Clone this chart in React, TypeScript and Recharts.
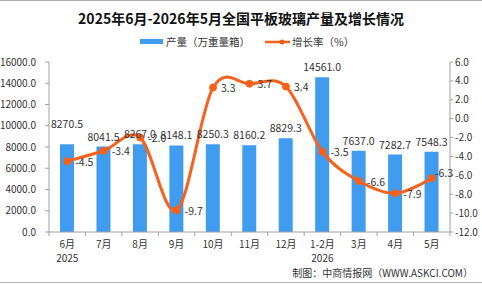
import React from 'react';
import { ComposedChart, Bar, Line, XAxis, YAxis, LabelList } from 'recharts';

const months = ['6月', '7月', '8月', '9月', '10月', '11月', '12月', '1-2月', '3月', '4月', '5月'];
const years = ['2025', '', '', '', '', '', '', '2026', '', '', ''];
const output = [8270.5, 8041.5, 8267.0, 8148.1, 8250.3, 8160.2, 8829.3, 14561.0, 7637.0, 7282.7, 7548.3];
const growth = [-4.5, -3.4, -2.0, -9.7, 3.3, 3.7, 3.4, -3.5, -6.6, -7.9, -6.3];
const leftTicks = [0, 2000, 4000, 6000, 8000, 10000, 12000, 14000, 16000];
const rightTicks = [-12, -10, -8, -6, -4, -2, 0, 2, 4, 6];

const W = 482;
const H = 284;
const PLOT_LEFT = 49;
const PLOT_RIGHT = 450;
const PLOT_TOP = 62;
const PLOT_BOTTOM = 232;
const FONT = '"Noto Sans CJK SC", "Noto Sans", sans-serif';
const BAR_COLOR = '#3f9cee';
const LINE_COLOR = '#f8611b';
const AXIS_COLOR = '#a0a0a0';
const TEXT_COLOR = '#333';

const data = months.map((m, i) => ({ month: m, year: years[i], output: output[i], growth: growth[i] }));

// Catmull-Rom style cardinal curve (Excel-like smoothing)
function makeCardinal(tension: number) {
  const k = (1 - tension) / 6;
  return function (context: any) {
    const s: any = {
      _context: context,
      _line: NaN,
      _point: 0,
      _x0: NaN, _x1: NaN, _x2: NaN, _y0: NaN, _y1: NaN, _y2: NaN,
    };
    const pt = (x: number, y: number) => {
      s._context.bezierCurveTo(
        s._x1 + k * (s._x2 - s._x0),
        s._y1 + k * (s._y2 - s._y0),
        s._x2 + k * (s._x1 - x),
        s._y2 + k * (s._y1 - y),
        s._x2,
        s._y2
      );
    };
    s.areaStart = () => { s._line = 0; };
    s.areaEnd = () => { s._line = NaN; };
    s.lineStart = () => {
      s._x0 = s._x1 = s._x2 = s._y0 = s._y1 = s._y2 = NaN;
      s._point = 0;
    };
    s.lineEnd = () => {
      switch (s._point) {
        case 2: s._context.lineTo(s._x2, s._y2); break;
        case 3: pt(s._x1, s._y1); break;
      }
      if (s._line || (s._line !== 0 && s._point === 1)) s._context.closePath();
      s._line = 1 - s._line;
    };
    s.point = (x: number, y: number) => {
      x = +x; y = +y;
      switch (s._point) {
        case 0:
          s._point = 1;
          s._line ? s._context.lineTo(x, y) : s._context.moveTo(x, y);
          break;
        case 1:
          s._point = 2;
          s._x1 = x; s._y1 = y;
          break;
        case 2:
          s._point = 3;
          pt(x, y);
          break;
        default:
          pt(x, y);
          break;
      }
      s._x0 = s._x1; s._x1 = s._x2; s._x2 = x;
      s._y0 = s._y1; s._y1 = s._y2; s._y2 = y;
    };
    return s;
  };
}
const smoothCurve = makeCardinal(0);

const HALF_BAND = (PLOT_RIGHT - PLOT_LEFT) / months.length / 2;

const XTick = (props: any) => {
  const { x, y, payload, index } = props;
  const yr = years[index];
  return (
    <g>
      <line x1={x - HALF_BAND} x2={x - HALF_BAND} y1={y} y2={y + 4} stroke={AXIS_COLOR} />
      {index === months.length - 1 && (
        <line x1={x + HALF_BAND} x2={x + HALF_BAND} y1={y} y2={y + 4} stroke={AXIS_COLOR} />
      )}
      <text x={x} y={y + 16} textAnchor="middle" fontSize={10} fill={TEXT_COLOR} fontFamily={FONT}>
        {payload.value}
      </text>
      {yr && (
        <text x={x} y={y + 30} textAnchor="middle" fontSize={10} fill={TEXT_COLOR} fontFamily={FONT}>
          {yr}
        </text>
      )}
    </g>
  );
};

const BarLabel = (props: any) => {
  const { x, y, width, value, index } = props;
  const extra = index === 0 ? 10 : 0;
  return (
    <text x={x + width / 2} y={y - 6 - extra} textAnchor="middle" fontSize={10.5} fill={TEXT_COLOR} fontFamily={FONT}>
      {Number(value).toFixed(1)}
    </text>
  );
};

const LineLabel = (props: any) => {
  const { x, y, value, index } = props;
  const last = index === months.length - 1;
  return (
    <text
      x={x + (last ? 3 : 8)}
      y={y + (last ? -6 : 0)}
      dominantBaseline="central"
      textAnchor="start"
      fontSize={10.5}
      fill={TEXT_COLOR}
      fontFamily={FONT}
    >
      {Number(value).toFixed(1)}
    </text>
  );
};

export default function App() {
  return (
    <div style={{ position: 'absolute', left: 0, top: 0, width: W, height: H, background: '#fff', fontFamily: FONT }}>
      <div style={{ position: 'absolute', left: 0, top: 0, width: W, height: 1, background: '#b0b0b0' }} />
      <div
        style={{
          position: 'absolute', left: 0, top: 8, width: W, textAlign: 'center',
          fontSize: 14, fontWeight: 'bold', color: '#111', lineHeight: '20px',
        }}
      >
        2025年6月-2026年5月全国平板玻璃产量及增长情况
      </div>
      {/* legend */}
      <div style={{ position: 'absolute', left: 140, top: 39, width: 23, height: 5, background: BAR_COLOR }} />
      <div style={{ position: 'absolute', left: 166, top: 34, fontSize: 10.5, lineHeight: '16px', color: TEXT_COLOR }}>
        产量（万重量箱）
      </div>
      <svg style={{ position: 'absolute', left: 262, top: 36 }} width={30} height={12}>
        <line x1={3} x2={28} y1={6} y2={6} stroke={LINE_COLOR} strokeWidth={2.5} />
        <circle cx={20} cy={6} r={2.5} fill={LINE_COLOR} />
      </svg>
      <div style={{ position: 'absolute', left: 292, top: 34, fontSize: 10.5, lineHeight: '16px', color: TEXT_COLOR }}>
        增长率（%）
      </div>

      <ComposedChart
        width={W}
        height={H}
        data={data}
        margin={{ top: PLOT_TOP, right: 0, bottom: 0, left: 0 }}
      >
        <XAxis
          dataKey="month"
          xAxisId="x"
          height={H - PLOT_BOTTOM}
          tickSize={0}
          tickMargin={0}
          tickLine={false}
          axisLine={{ stroke: AXIS_COLOR }}
          tick={<XTick />}
          interval={0}
        />
        <YAxis
          yAxisId="left"
          orientation="left"
          width={PLOT_LEFT}
          domain={[0, 16000]}
          ticks={leftTicks}
          interval={0}
          tickSize={4}
          tickMargin={9}
          tickLine={{ stroke: AXIS_COLOR }}
          axisLine={{ stroke: AXIS_COLOR }}
          tickFormatter={(v: number) => v.toFixed(1)}
          tick={{ fontSize: 10, fill: TEXT_COLOR, fontFamily: FONT }}
        />
        <YAxis
          yAxisId="right"
          orientation="right"
          width={W - PLOT_RIGHT}
          domain={[-12, 6]}
          ticks={rightTicks}
          interval={0}
          tickSize={3}
          tickMargin={2}
          tickLine={{ stroke: AXIS_COLOR }}
          axisLine={{ stroke: AXIS_COLOR }}
          tickFormatter={(v: number) => v.toFixed(1)}
          tick={{ fontSize: 10, fill: TEXT_COLOR, fontFamily: FONT }}
        />
        <Bar
          dataKey="output"
          xAxisId="x"
          yAxisId="left"
          fill={BAR_COLOR}
          barSize={14}
          isAnimationActive={false}
        >
          <LabelList dataKey="output" content={<BarLabel />} />
        </Bar>
        <Line
          dataKey="growth"
          xAxisId="x"
          yAxisId="right"
          type={smoothCurve as any}
          stroke={LINE_COLOR}
          strokeWidth={3}
          dot={{ r: 3.5, fill: LINE_COLOR, stroke: LINE_COLOR, strokeWidth: 1 }}
          isAnimationActive={false}
        >
          <LabelList dataKey="growth" content={<LineLabel />} />
        </Line>
      </ComposedChart>

      <div
        style={{
          position: 'absolute', right: 9, top: 265, fontSize: 10, lineHeight: '16px',
          color: TEXT_COLOR, whiteSpace: 'nowrap',
        }}
      >
        制图：中商情报网（WWW.ASKCI.COM）
      </div>
      <div style={{ position: 'absolute', left: 0, top: 282, width: W, height: 1, background: '#b0b0b0' }} />
    </div>
  );
}
